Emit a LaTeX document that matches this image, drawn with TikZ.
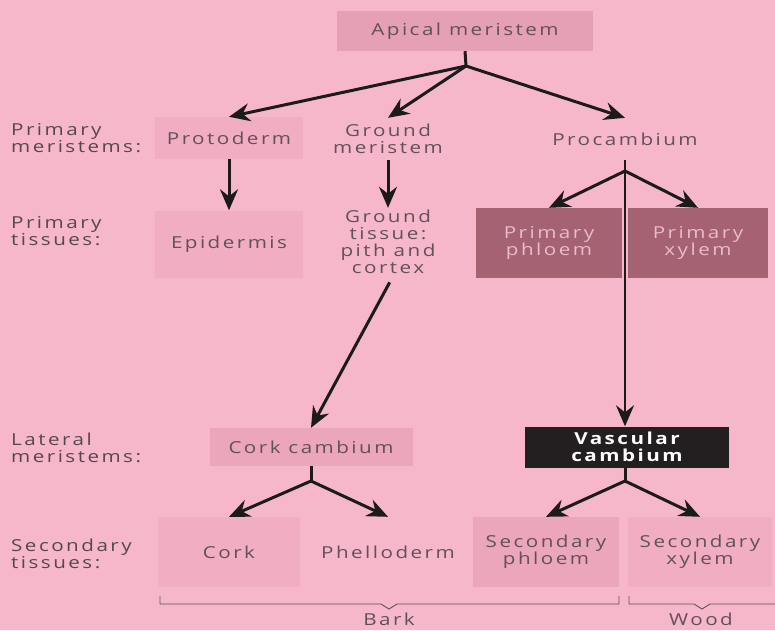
\documentclass[tikz,border=0pt]{standalone}
\usepackage{fontspec}
\setmainfont{Open Sans}[FakeStretch=1.25,LetterSpace=15]
\usetikzlibrary{arrows.meta}
\definecolor{bgpink}{HTML}{F6B7CB}
\definecolor{faint}{HTML}{F1ADC2}
\definecolor{apfill}{HTML}{E5A0B5}
\definecolor{midfill}{HTML}{EBA6BB}
\definecolor{mauve}{HTML}{A56272}
\definecolor{vcfill}{HTML}{231F20}
\definecolor{txt}{HTML}{62505A}
\definecolor{lbl}{HTML}{56474E}
\definecolor{mtxt}{HTML}{EBBBC9}
\definecolor{ink}{HTML}{1C1A1B}
\begin{document}
\begin{tikzpicture}[x=1pt,y=-1pt,
  every node/.style={font=\fontsize{16.5}{17}\selectfont, text=txt, align=center, inner sep=0pt},
  lab/.style={anchor=west, align=left, text=lbl},
  arr/.style={draw=ink, line width=3pt, -{Stealth[length=21pt,width=18pt,inset=7pt]}},
  stub/.style={draw=ink, line width=3pt},
  brk/.style={draw=txt, line width=0.9pt}]
\fill[bgpink] (0,0) rectangle (775,630);
\useasboundingbox (0,0) rectangle (775,630);

% row 0
\node[fill=apfill, minimum width=256pt, minimum height=40pt] (apical) at (465,31) {Apical meristem};

% left labels
\node[lab] (l1) at (11,138) {Primary\\meristems:};
\node[lab] (l2) at (11,231) {Primary\\tissues:};
\node[lab] (l3) at (11,448) {Lateral\\meristems:};
\node[lab] (l4) at (11,554) {Secondary\\tissues:};

% row 1
\node[fill=faint, minimum width=148pt, minimum height=42pt] (proto) at (229,138) {Protoderm};
\node[minimum height=42pt] (gm) at (388,139) {Ground\\meristem};
\node[minimum height=42pt] (pc) at (625,139) {Procambium};

% row 2
\node[fill=faint, minimum width=148pt, minimum height=67pt] (epi) at (229,244) {Epidermis};
\node[minimum height=68pt] (gt) at (388,242) {Ground\\tissue:\\pith and\\cortex};
\node[fill=mauve, text=mtxt, minimum width=146pt, minimum height=70pt] (pph) at (549,243) {Primary\\phloem};
\node[fill=mauve, text=mtxt, minimum width=140pt, minimum height=70pt] (pxy) at (698,243) {Primary\\xylem};

% row 3
\node[fill=midfill, minimum width=203pt, minimum height=38pt] (cc) at (311,447) {Cork cambium};
\node[fill=vcfill, text=white, font=\fontsize{16.5}{17}\selectfont\bfseries, minimum width=204pt, minimum height=41pt] (vc) at (627,447) {Vascular\\cambium};

% row 4
\node[fill=faint, minimum width=142pt, minimum height=70pt] (cork) at (229,552) {Cork};
\node[minimum height=70pt] (phel) at (388,552) {Phelloderm};
\node[fill=midfill, minimum width=146pt, minimum height=70pt] (sph) at (546,552) {Secondary\\phloem};
\node[fill=faint, minimum width=144pt, minimum height=70pt] (sxy) at (700,552) {Secondary\\xylem};

% junctions
\coordinate (j1) at (466,66);
\coordinate (j2) at (625,171);
\coordinate (j3) at (311,481);
\coordinate (j4) at (625,481);

% connectors
\draw[stub] (apical.south) -- (j1);
\draw[arr] (j1) -- (proto.north);
\draw[arr] (j1) -- (gm.north);
\draw[arr] (j1) -- (pc.north);

\draw[arr] (proto.south) -- (epi.north);
\draw[arr] (gm.south) -- (gt.north);

\draw[arr, line width=2.4pt] (pc.south) -- (pc.south |- vc.north);
\draw[arr] (j2) -- (pph.north);
\draw[arr] (j2) -- (pxy.north);

\draw[arr, shorten <=7pt] ([xshift=5pt]gt.south) -- (cc.north);

\draw[stub] (cc.south) -- (j3);
\draw[arr] (j3) -- (cork.north);
\draw[arr] (j3) -- (phel.north);

\draw[stub] (j4 |- vc.south) -- (j4);
\draw[arr] (j4) -- (sph.north);
\draw[arr] (j4) -- (sxy.north);

% brackets
\draw[brk] (160,596) -- (160,604) -- (381,604) -- (389,609) -- (397,604) -- (619,604) -- (619,596);
\draw[brk] (629,596) -- (629,604) -- (694,604) -- (702,609) -- (710,604) -- (775,604);
\node (bark) at (389,619) {Bark};
\node (wood) at (701,619) {Wood};
\end{tikzpicture}
\end{document}
